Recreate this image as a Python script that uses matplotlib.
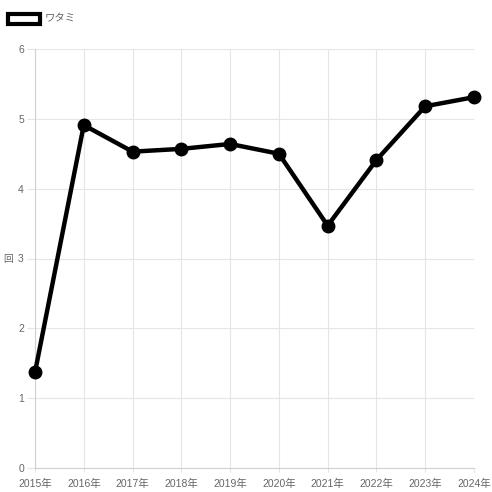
import matplotlib
matplotlib.use("Agg")
import matplotlib.pyplot as plt

plt.rcParams['font.family'] = ['Liberation Sans', 'Noto Sans CJK JP', 'DejaVu Sans']

years = ["2015年", "2016年", "2017年", "2018年", "2019年", "2020年", "2021年", "2022年", "2023年", "2024年"]
values = [1.37, 4.91, 4.53, 4.57, 4.64, 4.50, 3.47, 4.41, 5.18, 5.31]
series_name = "ワタミ"
y_label = "回"

fig = plt.figure(figsize=(4.92, 4.92), dpi=100)
ax = fig.add_axes([35/492, 24/492, (474-35)/492, (468-49)/492])

x = list(range(len(years)))
ax.plot(x, values, color="black", linewidth=3.2, marker="o", markersize=9, zorder=3, clip_on=False)

ax.set_xlim(0, len(years)-1)
ax.set_ylim(0, 6)
ax.set_xticks(x)
ax.set_xticklabels(years)
ax.set_yticks(range(0, 7))
ax.grid(True, color="#e5e5e5", linewidth=0.8)
ax.set_axisbelow(True)
for s in ["top", "right"]:
    ax.spines[s].set_visible(False)
for s in ["left", "bottom"]:
    ax.spines[s].set_color("#d0d0d0")
    ax.spines[s].set_linewidth(0.8)
ax.tick_params(axis="both", colors="#e5e5e5", labelcolor="#666666", labelsize=7.5, length=6, width=0.8, pad=2)
ax.tick_params(axis="x", length=3, pad=5)
fig.text(8/492, 1-259/492, y_label, fontsize=7, color="#666666", va="center", ha="center")

# legend
fig.patches.append(plt.Rectangle((8/492, 1-24/492), 32/492, 10/492, transform=fig.transFigure,
                                 facecolor="white", edgecolor="black", linewidth=3))
fig.text(45/492, 1-18.5/492, series_name, fontsize=7.5, color="#666666", va="center", ha="left")

fig.savefig("out.png", dpi=100)
